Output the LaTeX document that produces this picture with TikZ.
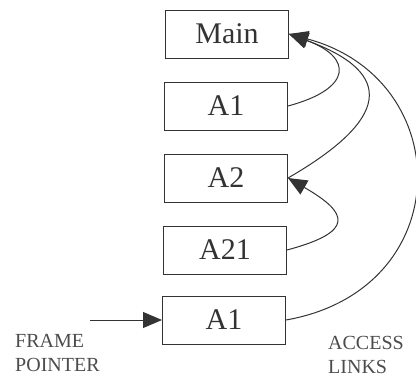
\documentclass[tikz,border=0pt]{standalone}
\usepackage{fontspec}
\setmainfont{Liberation Serif}
\usetikzlibrary{arrows.meta}

\begin{document}
\begin{tikzpicture}[x=1pt,y=1pt,
		rec/.style={draw=black!80, line width=1pt, minimum width=123pt, minimum height=48pt, inner sep=0pt, font=\fontsize{30}{30}\selectfont, text=black!80},
		link/.style={draw=black!80, line width=1pt, -{Triangle[length=19pt,width=16pt]}},
		caption/.style={font=\fontsize{20}{24}\selectfont, text=black!70, align=left, inner sep=0pt, anchor=north west}
			]
	\useasboundingbox (0,0) rectangle (416,-381);

	\node[rec] (main) at (227,-34) {Main};
	\node[rec] (aone) at (226,-106) {A1};
	\node[rec] (atwo) at (226,-178) {A2};
	\node[rec] (atwoone) at (225,-250) {A21};
	\node[rec] (aonebot) at (224,-320) {A1};

	\coordinate (fp) at (90,-320);
	\draw[link] (fp) -- (aonebot.west);

	\draw[link] (aone.east) to[out=15,in=-20,looseness=2.4] (main.east);
	\draw[link] (atwo.east) to[out=30,in=-20,looseness=2.05] (main.east);
	\draw[link] (atwoone.east) to[out=15,in=-30,looseness=2.5] (atwo.east);
	\draw[link] (aonebot.east) to[out=10,in=-15,looseness=1.56] (main.east);

	\node[caption] (frame) at (15,-334) {FRAME\\POINTER};
	\node[caption] (access) at (328,-336) {ACCESS\\LINKS};
\end{tikzpicture}
\end{document}
